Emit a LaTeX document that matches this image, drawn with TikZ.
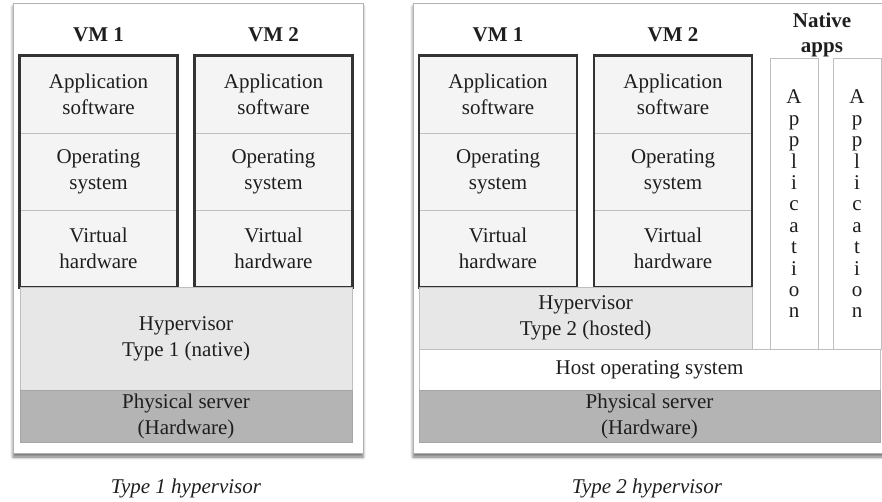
\documentclass[tikz,border=0pt]{standalone}
\usepackage{fontspec}
\setmainfont{Liberation Serif}
\usetikzlibrary{shadows.blur}
\definecolor{inkgray}{HTML}{1E1E1E}
\definecolor{cellfill}{HTML}{F4F4F4}
\definecolor{hyperfill}{HTML}{E7E7E7}
\definecolor{physfill}{HTML}{B4B4B4}
\tikzset{
  panel/.style={draw=black!30, fill=white, line width=0.8pt,
    blur shadow={shadow xshift=0pt, shadow yshift=-4pt, shadow blur radius=3pt,
      shadow opacity=55}},
  layer/.style={draw=black!25, line width=0.8pt, text=inkgray, align=center,
    inner sep=0pt, font=\fontsize{21}{26}\selectfont},
  vmcell/.style={layer, fill=cellfill, minimum width=157pt, minimum height=77pt},
  vmframe/.style={draw=black!80, line width=2.5pt},
  hyper/.style={layer, fill=hyperfill},
  phys/.style={layer, fill=physfill, draw=black!35},
  hostos/.style={layer, fill=white},
  appbox/.style={layer, fill=white, minimum width=48pt, minimum height=291pt,
    font=\fontsize{21}{21.4}\selectfont},
  vmlabel/.style={text=inkgray, align=center, font=\fontsize{21}{25}\selectfont\bfseries},
  caption/.style={text=inkgray, font=\fontsize{21}{25}\selectfont\itshape}
}
\begin{document}
\begin{tikzpicture}[x=1pt, y=-1pt]
      \useasboundingbox (0,0) rectangle (882,501);
      % panels
      \path[panel] (13,3) rectangle (363,453);
      \path[panel] (413,3) rectangle (895,453);
      % type 1
      \node[vmlabel] (t1vm1) at (98.5,35) {VM 1};
      \node[vmlabel] (t1vm2) at (273.5,35) {VM 2};
      \node[vmcell] (t1app1) at (98.5,94.5) {Application\\software};
      \node[vmcell] (t1os1) at (98.5,171.5) {Operating\\system};
      \node[vmcell] (t1hw1) at (98.5,248.5) {Virtual\\hardware};
      \node[vmcell] (t1app2) at (273.5,94.5) {Application\\software};
      \node[vmcell] (t1os2) at (273.5,171.5) {Operating\\system};
      \node[vmcell] (t1hw2) at (273.5,248.5) {Virtual\\hardware};
      \draw[vmframe] (t1app1.north west) rectangle (t1hw1.south east);
      \draw[vmframe] (t1app2.north west) rectangle (t1hw2.south east);
      \node[hyper, minimum width=332pt, minimum height=103pt] (t1hyp) at (186,338.5)
        {Hypervisor\\Type 1 (native)};
      \node[phys, minimum width=332pt, minimum height=52pt] (t1phys) at (186,416)
        {Physical server\\(Hardware)};
      \node[caption] (t1cap) at (186,488) {Type 1 hypervisor};
      % type 2
      \node[vmlabel] (t2vm1) at (498,35) {VM 1};
      \node[vmlabel] (t2vm2) at (673,35) {VM 2};
      \node[vmlabel] (t2nat) at (822,35) {Native\\apps};
      \node[vmcell] (t2app1) at (498,94.5) {Application\\software};
      \node[vmcell] (t2os1) at (498,171.5) {Operating\\system};
      \node[vmcell] (t2hw1) at (498,248.5) {Virtual\\hardware};
      \node[vmcell] (t2app2) at (673,94.5) {Application\\software};
      \node[vmcell] (t2os2) at (673,171.5) {Operating\\system};
      \node[vmcell] (t2hw2) at (673,248.5) {Virtual\\hardware};
      \draw[vmframe] (t2app1.north west) rectangle (t2hw1.south east);
      \draw[vmframe] (t2app2.north west) rectangle (t2hw2.south east);
      \node[appbox] (t2nat1) at (794,204) {A\\p\\p\\l\\i\\c\\a\\t\\i\\o\\n};
      \node[appbox] (t2nat2) at (857,204) {A\\p\\p\\l\\i\\c\\a\\t\\i\\o\\n};
      \node[hyper, minimum width=333pt, minimum height=62pt] (t2hyp) at (585.5,318)
        {Hypervisor\\Type 2 (hosted)};
      \node[hostos, minimum width=461pt, minimum height=41pt] (t2host) at (649.5,369.5)
        {Host operating system};
      \node[phys, minimum width=461pt, minimum height=52pt] (t2phys) at (649.5,416)
        {Physical server\\(Hardware)};
      \node[caption] (t2cap) at (647,488) {Type 2 hypervisor};
    \end{tikzpicture}
\end{document}
